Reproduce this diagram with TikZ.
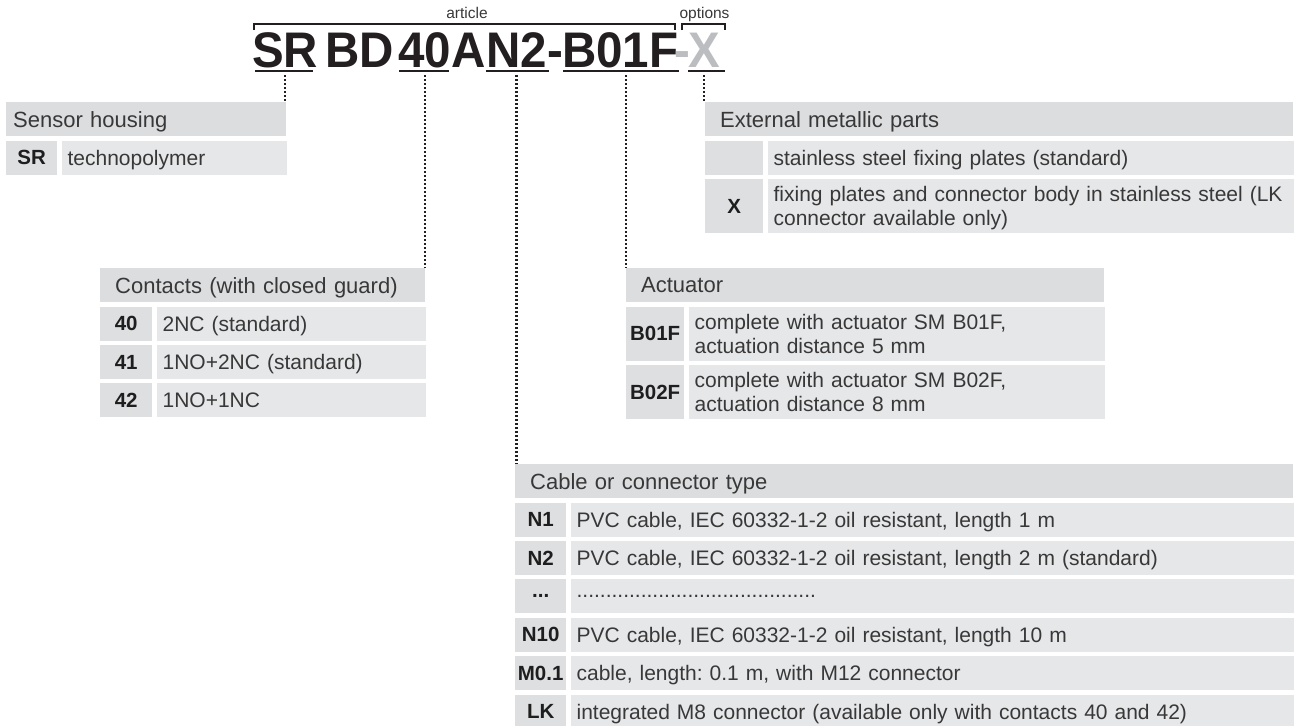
\documentclass[tikz,border=0pt]{standalone}
\usepackage{fontspec}
\setmainfont{Liberation Sans}
\usepackage{graphicx}
\usepackage{tikz}
\usetikzlibrary{positioning}
\frenchspacing

\definecolor{headfill}{HTML}{DCDDDF}
\definecolor{keyfill}{HTML}{DEDFE1}
\definecolor{valfill}{HTML}{E6E7E9}
\definecolor{celltext}{HTML}{383838}
\definecolor{keytext}{HTML}{1E1E1E}
\definecolor{codetext}{HTML}{231F20}
\definecolor{optgray}{HTML}{BCBDC0}

\newcommand\headfont{\fontsize{22}{26}\selectfont}
\newcommand\valfont{\fontsize{21}{24}\selectfont}
\newcommand\keyfont{\fontsize{20.5}{24}\selectfont\bfseries}
\newcommand\codefont{\fontsize{50}{50}\selectfont\bfseries}
\newcommand\notefont{\fontsize{15.5}{18}\selectfont}
\newcommand\cx[1]{\scalebox{0.95}[1]{#1}}

\tikzset{
  head/.style={fill=headfill, text=celltext, font=\headfont, text width=#1, align=left,
    inner xsep=15pt, inner ysep=0pt, minimum height=34pt, text depth=0pt},
  key/.style={fill=keyfill, text=keytext, font=\keyfont, minimum width=#1,
    minimum height=34pt, inner sep=0pt, text depth=0pt},
  val/.style={fill=valfill, text=celltext, font=\valfont, text width=#1, align=left,
    inner xsep=6pt, inner ysep=0pt, minimum height=34pt, text depth=0pt},
  tall/.style={minimum height=54pt},
  twoline/.style={minimum height=54pt, text depth=24pt},
  code/.style={font=\codefont, text=codetext, inner sep=0pt, anchor=base west},
  note/.style={font=\notefont, text=celltext, inner sep=0pt, anchor=base},
  uline/.style={draw=codetext, line width=2pt},
  lead/.style={draw=codetext, line width=2.2pt, dash pattern=on 2pt off 2pt},
  brace/.style={draw=codetext, line width=1.2pt},
}

\begin{document}
\begin{tikzpicture}[x=1pt, y=-1pt]
  \useasboundingbox (0,0) rectangle (1294,726);

  % article code
  \node[code] (cSR) at (252,67) {\cx{SR}};
  \node[code] (cBD) at (325,67) {\cx{BD}};
  \node[code] (c40) at (398,67) {\cx{40}};
  \node[code] (cA) at (c40.base east) {\cx{A}};
  \node[code] (cN2) at (cA.base east) {\cx{N2}};
  \node[code] (cDash) at (cN2.base east) {\cx{-}};
  \node[code] (cB01F) at (562,67) {\cx{B01F}};
  \node[code, text=optgray] (cDashX) at (674,67) {\cx{-}};
  \node[code, text=optgray] (cX) at (688,67) {\cx{X}};

  % brackets
  \draw[brace] (254,30) -- (254,24) -- (675,24) -- (675,30);
  \draw[brace] (682,30) -- (682,24) -- (725,24) -- (725,30);
  \node[note] (artLbl) at (467,18.5) {article};
  \node[note] (optLbl) at (704.5,18.5) {options};

  % underlines
  \draw[uline] ([shift={(3pt,-4pt)}]cSR.base west) -- ([shift={(-5pt,-4pt)}]cSR.base east);
  \draw[uline] ([shift={(1pt,-4pt)}]c40.base west) -- ([shift={(-2pt,-4pt)}]c40.base east);
  \draw[uline] ([shift={(0pt,-4pt)}]cN2.base west) -- ([shift={(2pt,-4pt)}]cN2.base east);
  \draw[uline] ([shift={(1pt,-4pt)}]cB01F.base west) -- ([shift={(0pt,-4pt)}]cB01F.base east);
  \draw[uline] ([shift={(0pt,-4pt)}]cX.base west) -- ([shift={(5pt,-4pt)}]cX.base east);

  % sensor housing
  \node[head=266pt, inner xsep=7pt, anchor=north west] (hsHead) at (6,102) {Sensor housing};
  \node[key=51pt, below right=4pt and 0pt of hsHead.south west] (hsK1) {SR};
  \node[val=213pt, below right=0pt and 4pt of hsK1.north east] (hsV1) {technopolymer};

  % external metallic parts
  \node[head=558pt, anchor=north west] (extHead) at (705,102) {External metallic parts};
  \node[key=58pt, below right=4pt and 0pt of extHead.south west] (extK1) {};
  \node[val=514pt, below right=0pt and 4pt of extK1.north east] (extV1) {stainless steel fixing plates (standard)};
  \node[key=58pt, tall, below right=4pt and 0pt of extK1.south west] (extK2) {X};
  \node[val=514pt, twoline, below right=0pt and 4pt of extK2.north east] (extV2) {fixing plates and connector body in stainless steel (LK\\connector available only)};

  % contacts
  \node[head=295pt, anchor=north west] (conHead) at (100,268) {Contacts (with closed guard)};
  \node[key=52pt, below right=4pt and 0pt of conHead.south west] (conK1) {40};
  \node[val=257pt, below right=0pt and 4pt of conK1.north east] (conV1) {2NC (standard)};
  \node[key=52pt, below right=4pt and 0pt of conK1.south west] (conK2) {41};
  \node[val=257pt, below right=0pt and 4pt of conK2.north east] (conV2) {1NO+2NC (standard)};
  \node[key=52pt, below right=4pt and 0pt of conK2.south west] (conK3) {42};
  \node[val=257pt, below right=0pt and 4pt of conK3.north east] (conV3) {1NO+1NC};

  % actuator
  \node[head=448pt, anchor=north west] (actHead) at (626,268) {Actuator};
  \node[key=58pt, tall, below right=4pt and 0pt of actHead.south west] (actK1) {B01F};
  \node[val=404pt, twoline, below right=0pt and 4pt of actK1.north east] (actV1) {complete with actuator SM B01F,\\actuation distance 5 mm};
  \node[key=58pt, tall, below right=4pt and 0pt of actK1.south west] (actK2) {B02F};
  \node[val=404pt, twoline, below right=0pt and 4pt of actK2.north east] (actV2) {complete with actuator SM B02F,\\actuation distance 8 mm};

  % cable or connector type
  \node[head=748pt, anchor=north west] (cabHead) at (515,464) {Cable or connector type};
  \node[key=51pt, below right=4pt and 0pt of cabHead.south west] (cabK1) {N1};
  \node[val=711pt, below right=0pt and 4pt of cabK1.north east] (cabV1) {PVC cable, IEC 60332-1-2 oil resistant, length 1 m};
  \node[key=51pt, below right=4pt and 0pt of cabK1.south west] (cabK2) {N2};
  \node[val=711pt, below right=0pt and 4pt of cabK2.north east] (cabV2) {PVC cable, IEC 60332-1-2 oil resistant, length 2 m (standard)};
  \node[key=51pt, below right=4pt and 0pt of cabK2.south west] (cabK3) {...};
  \node[val=711pt, below right=0pt and 4pt of cabK3.north east] (cabV3) {.........................................};
  \node[key=51pt, below right=4pt and 0pt of cabK3.south west] (cabK4) {N10};
  \node[val=711pt, below right=0pt and 4pt of cabK4.north east] (cabV4) {PVC cable, IEC 60332-1-2 oil resistant, length 10 m};
  \node[key=51pt, below right=4pt and 0pt of cabK4.south west] (cabK5) {M0.1};
  \node[val=711pt, below right=0pt and 4pt of cabK5.north east] (cabV5) {cable, length: 0.1 m, with M12 connector};
  \node[key=51pt, below right=4pt and 0pt of cabK5.south west] (cabK6) {LK};
  \node[val=711pt, below right=0pt and 4pt of cabK6.north east] (cabV6) {integrated M8 connector (available only with contacts 40 and 42)};

  % leaders
  \coordinate (lB01F) at (actHead.north west |- cB01F.base);
  \draw[lead] ([yshift=-8pt]cSR.base) -- (cSR.base |- hsHead.north);
  \draw[lead] ([yshift=-8pt]c40.base) -- (c40.base |- conHead.north);
  \draw[lead] ([yshift=-8pt]cN2.base) -- (cN2.base |- cabHead.north);
  \draw[lead] ([yshift=-8pt]lB01F) -- (actHead.north west);
  \draw[lead] ([yshift=-8pt]cX.base) -- (cX.base |- extHead.north);
\end{tikzpicture}
\end{document}
